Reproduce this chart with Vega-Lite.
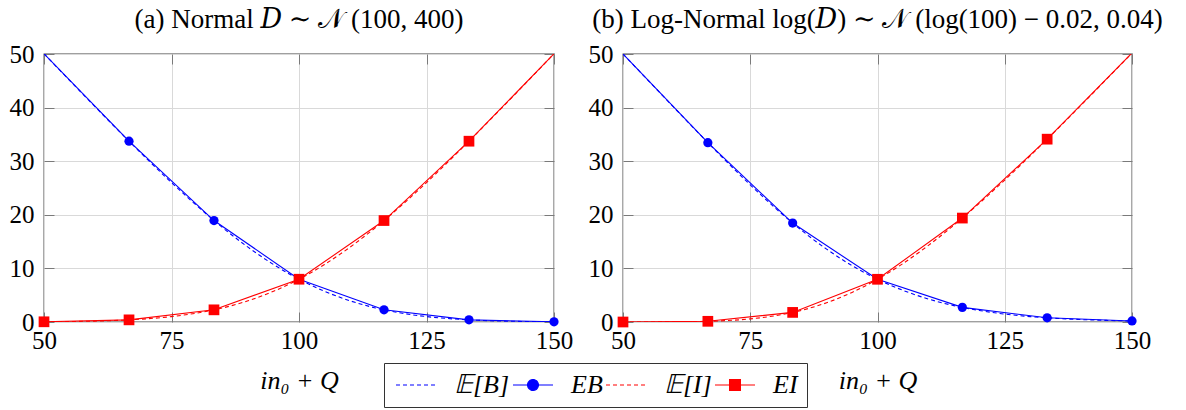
{
  "$schema": "https://vega.github.io/schema/vega-lite/v6.json",
  "background": "white",
  "padding": {"left": 8, "top": 5, "right": 5, "bottom": 5},
  "datasets": {
    "curves": [
      {"p": "a", "s": "E[B]", "q": 50, "v": 50.04}, {"p": "a", "s": "E[B]", "q": 55, "v": 45.09}, {"p": "a", "s": "E[B]", "q": 60, "v": 40.17},
      {"p": "a", "s": "E[B]", "q": 65, "v": 35.32}, {"p": "a", "s": "E[B]", "q": 70, "v": 30.59}, {"p": "a", "s": "E[B]", "q": 75, "v": 26.01},
      {"p": "a", "s": "E[B]", "q": 80, "v": 21.67}, {"p": "a", "s": "E[B]", "q": 85, "v": 17.62}, {"p": "a", "s": "E[B]", "q": 90, "v": 13.96},
      {"p": "a", "s": "E[B]", "q": 95, "v": 10.73}, {"p": "a", "s": "E[B]", "q": 100, "v": 7.98}, {"p": "a", "s": "E[B]", "q": 105, "v": 5.73},
      {"p": "a", "s": "E[B]", "q": 110, "v": 3.96}, {"p": "a", "s": "E[B]", "q": 115, "v": 2.62}, {"p": "a", "s": "E[B]", "q": 120, "v": 1.67},
      {"p": "a", "s": "E[B]", "q": 125, "v": 1.01}, {"p": "a", "s": "E[B]", "q": 130, "v": 0.59}, {"p": "a", "s": "E[B]", "q": 135, "v": 0.32},
      {"p": "a", "s": "E[B]", "q": 140, "v": 0.17}, {"p": "a", "s": "E[B]", "q": 145, "v": 0.09}, {"p": "a", "s": "E[B]", "q": 150, "v": 0.04},
      {"p": "a", "s": "E[I]", "q": 50, "v": 0.04}, {"p": "a", "s": "E[I]", "q": 55, "v": 0.09}, {"p": "a", "s": "E[I]", "q": 60, "v": 0.17},
      {"p": "a", "s": "E[I]", "q": 65, "v": 0.32}, {"p": "a", "s": "E[I]", "q": 70, "v": 0.59}, {"p": "a", "s": "E[I]", "q": 75, "v": 1.01},
      {"p": "a", "s": "E[I]", "q": 80, "v": 1.67}, {"p": "a", "s": "E[I]", "q": 85, "v": 2.62}, {"p": "a", "s": "E[I]", "q": 90, "v": 3.96},
      {"p": "a", "s": "E[I]", "q": 95, "v": 5.73}, {"p": "a", "s": "E[I]", "q": 100, "v": 7.98}, {"p": "a", "s": "E[I]", "q": 105, "v": 10.73},
      {"p": "a", "s": "E[I]", "q": 110, "v": 13.96}, {"p": "a", "s": "E[I]", "q": 115, "v": 17.62}, {"p": "a", "s": "E[I]", "q": 120, "v": 21.67},
      {"p": "a", "s": "E[I]", "q": 125, "v": 26.01}, {"p": "a", "s": "E[I]", "q": 130, "v": 30.59}, {"p": "a", "s": "E[I]", "q": 135, "v": 35.32},
      {"p": "a", "s": "E[I]", "q": 140, "v": 40.17}, {"p": "a", "s": "E[I]", "q": 145, "v": 45.09}, {"p": "a", "s": "E[I]", "q": 150, "v": 50.04},
      {"p": "b", "s": "E[B]", "q": 50, "v": 50.0}, {"p": "b", "s": "E[B]", "q": 55, "v": 45.01}, {"p": "b", "s": "E[B]", "q": 60, "v": 40.03},
      {"p": "b", "s": "E[B]", "q": 65, "v": 35.09}, {"p": "b", "s": "E[B]", "q": 70, "v": 30.25}, {"p": "b", "s": "E[B]", "q": 75, "v": 25.58},
      {"p": "b", "s": "E[B]", "q": 80, "v": 21.19}, {"p": "b", "s": "E[B]", "q": 85, "v": 17.16}, {"p": "b", "s": "E[B]", "q": 90, "v": 13.59},
      {"p": "b", "s": "E[B]", "q": 95, "v": 10.52}, {"p": "b", "s": "E[B]", "q": 100, "v": 7.97}, {"p": "b", "s": "E[B]", "q": 105, "v": 5.91},
      {"p": "b", "s": "E[B]", "q": 110, "v": 4.29}, {"p": "b", "s": "E[B]", "q": 115, "v": 3.06}, {"p": "b", "s": "E[B]", "q": 120, "v": 2.15},
      {"p": "b", "s": "E[B]", "q": 125, "v": 1.48}, {"p": "b", "s": "E[B]", "q": 130, "v": 1.01}, {"p": "b", "s": "E[B]", "q": 135, "v": 0.68},
      {"p": "b", "s": "E[B]", "q": 140, "v": 0.45}, {"p": "b", "s": "E[B]", "q": 145, "v": 0.3}, {"p": "b", "s": "E[B]", "q": 150, "v": 0.19},
      {"p": "b", "s": "E[I]", "q": 50, "v": 0.0}, {"p": "b", "s": "E[I]", "q": 55, "v": 0.01}, {"p": "b", "s": "E[I]", "q": 60, "v": 0.03},
      {"p": "b", "s": "E[I]", "q": 65, "v": 0.09}, {"p": "b", "s": "E[I]", "q": 70, "v": 0.25}, {"p": "b", "s": "E[I]", "q": 75, "v": 0.58},
      {"p": "b", "s": "E[I]", "q": 80, "v": 1.19}, {"p": "b", "s": "E[I]", "q": 85, "v": 2.16}, {"p": "b", "s": "E[I]", "q": 90, "v": 3.59},
      {"p": "b", "s": "E[I]", "q": 95, "v": 5.52}, {"p": "b", "s": "E[I]", "q": 100, "v": 7.97}, {"p": "b", "s": "E[I]", "q": 105, "v": 10.91},
      {"p": "b", "s": "E[I]", "q": 110, "v": 14.29}, {"p": "b", "s": "E[I]", "q": 115, "v": 18.06}, {"p": "b", "s": "E[I]", "q": 120, "v": 22.15},
      {"p": "b", "s": "E[I]", "q": 125, "v": 26.48}, {"p": "b", "s": "E[I]", "q": 130, "v": 31.01}, {"p": "b", "s": "E[I]", "q": 135, "v": 35.68},
      {"p": "b", "s": "E[I]", "q": 140, "v": 40.45}, {"p": "b", "s": "E[I]", "q": 145, "v": 45.3}, {"p": "b", "s": "E[I]", "q": 150, "v": 50.19}
    ],
    "sims": [
      {"p": "a", "s": "EB", "q": 50, "v": 50.04}, {"p": "a", "s": "EB", "q": 66.67, "v": 33.73}, {"p": "a", "s": "EB", "q": 83.33, "v": 18.93},
      {"p": "a", "s": "EB", "q": 100, "v": 7.98}, {"p": "a", "s": "EB", "q": 116.67, "v": 2.27}, {"p": "a", "s": "EB", "q": 133.33, "v": 0.4},
      {"p": "a", "s": "EB", "q": 150, "v": 0.04},
      {"p": "a", "s": "EI", "q": 50, "v": 0.04}, {"p": "a", "s": "EI", "q": 66.67, "v": 0.4}, {"p": "a", "s": "EI", "q": 83.33, "v": 2.27},
      {"p": "a", "s": "EI", "q": 100, "v": 7.98}, {"p": "a", "s": "EI", "q": 116.67, "v": 18.93}, {"p": "a", "s": "EI", "q": 133.33, "v": 33.73},
      {"p": "a", "s": "EI", "q": 150, "v": 50.04},
      {"p": "b", "s": "EB", "q": 50, "v": 50.0}, {"p": "b", "s": "EB", "q": 66.67, "v": 33.46}, {"p": "b", "s": "EB", "q": 83.33, "v": 18.46},
      {"p": "b", "s": "EB", "q": 100, "v": 7.97}, {"p": "b", "s": "EB", "q": 116.67, "v": 2.73}, {"p": "b", "s": "EB", "q": 133.33, "v": 0.78},
      {"p": "b", "s": "EB", "q": 150, "v": 0.19},
      {"p": "b", "s": "EI", "q": 50, "v": 0.0}, {"p": "b", "s": "EI", "q": 66.67, "v": 0.13}, {"p": "b", "s": "EI", "q": 83.33, "v": 1.79},
      {"p": "b", "s": "EI", "q": 100, "v": 7.97}, {"p": "b", "s": "EI", "q": 116.67, "v": 19.39}, {"p": "b", "s": "EI", "q": 133.33, "v": 34.11},
      {"p": "b", "s": "EI", "q": 150, "v": 50.19}
    ]
  },
  "hconcat": [
    {
      "width": 510,
      "height": 268,
      "title": "(a) Normal 𝐷 ∼ 𝒩 (100, 400)",
      "encoding": {
        "x": {"field": "q", "type": "quantitative", "scale": {"domain": [50, 150], "nice": false, "zero": false}, "axis": null},
        "y": {"field": "v", "type": "quantitative", "scale": {"domain": [0, 50], "nice": false}, "axis": null}
      },
      "layer": [
        {
          "data": {"name": "curves"},
          "transform": [{"filter": "datum.p === 'a' && datum.s === 'E[B]'"}],
          "mark": {"type": "line", "color": "#0000ff", "strokeDash": [4, 3], "strokeWidth": 1.1, "interpolate": "monotone", "clip": true},
          "encoding": {
            "x": {"field": "q", "type": "quantitative", "scale": {"domain": [50, 150], "nice": false, "zero": false},
                  "axis": {"orient": "bottom", "values": [50, 75, 100, 125, 150], "title": "in₀ + Q", "grid": true, "domain": false, "tickSize": -10,
                           "labelPadding": 16, "titlePadding": 14}},
            "y": {"field": "v", "type": "quantitative", "scale": {"domain": [0, 50], "nice": false},
                  "axis": {"orient": "left", "values": [0, 10, 20, 30, 40, 50], "title": null, "grid": true, "domain": false, "tickSize": -10,
                           "labelPadding": 20}}
          }
        },
        {
          "data": {"name": "curves"},
          "transform": [{"filter": "datum.p === 'a' && datum.s === 'E[I]'"}],
          "mark": {"type": "line", "color": "#ff0000", "strokeDash": [4, 3], "strokeWidth": 1.1, "interpolate": "monotone", "clip": true}
        },
        {
          "data": {"name": "sims"},
          "transform": [{"filter": "datum.p === 'a' && datum.s === 'EB'"}],
          "mark": {"type": "line", "color": "#0000ff", "strokeWidth": 1.1, "clip": true}
        },
        {
          "data": {"name": "sims"},
          "transform": [{"filter": "datum.p === 'a' && datum.s === 'EI'"}],
          "mark": {"type": "line", "color": "#ff0000", "strokeWidth": 1.1, "clip": true}
        },
        {
          "data": {"name": "sims"},
          "transform": [{"filter": "datum.p === 'a' && datum.s === 'EB' && datum.v < 50"}],
          "mark": {"type": "point", "shape": "circle", "filled": true, "opacity": 1, "size": 85, "color": "#0000ff"}
        },
        {
          "data": {"name": "sims"},
          "transform": [{"filter": "datum.p === 'a' && datum.s === 'EI' && datum.v < 50"}],
          "mark": {"type": "point", "shape": "square", "filled": true, "opacity": 1, "size": 115, "color": "#ff0000"}
        },
        {
          "data": {"name": "sims"},
          "transform": [{"filter": "datum.p === 'a'"}],
          "mark": {"type": "point", "opacity": 0},
          "encoding": {
            "x": {"field": "q", "type": "quantitative", "scale": {"domain": [50, 150], "nice": false, "zero": false},
                  "axis": {"orient": "top", "values": [50, 75, 100, 125, 150], "labels": false, "title": null, "grid": false, "domain": false, "tickSize": -10}},
            "y": {"field": "v", "type": "quantitative", "scale": {"domain": [0, 50], "nice": false},
                  "axis": {"orient": "right", "values": [0, 10, 20, 30, 40, 50], "labels": false, "title": null, "grid": false, "domain": false, "tickSize": -10}}
          }
        },
        {
          "data": {"name": "sims"},
          "transform": [{"filter": "datum.p === 'legend only'"}],
          "mark": {"type": "point", "filled": true},
          "encoding": {
            "color": {"field": "s", "type": "nominal",
                      "scale": {"domain": ["E[B]", "EB", "E[I]", "EI"], "range": ["#0000ff", "#0000ff", "#ff0000", "#ff0000"]},
                      "legend": {"orient": "none", "legendX": 340, "legendY": 309, "direction": "horizontal", "title": null,
                                 "symbolSize": 400, "symbolOffset": 10, "symbolStrokeWidth": 1.2, "symbolOpacity": 1,
                                 "labelFont": "Liberation Serif", "labelFontSize": 26, "labelFontStyle": "italic", "labelColor": "#000",
                                 "labelOffset": 25, "columnPadding": -9, "padding": 9,
                                 "strokeColor": "#333", "fillColor": "white", "labelExpr": "replace(datum.label, 'E[', '𝔼[')"}},
            "stroke": {"field": "s", "type": "nominal",
                       "scale": {"domain": ["E[B]", "EB", "E[I]", "EI"], "range": ["#0000ff", "#0000ff", "#ff0000", "#ff0000"]},
                       "legend": {"orient": "none", "legendX": 340, "legendY": 309, "direction": "horizontal", "title": null,
                                  "symbolSize": 400, "symbolOffset": 10, "symbolStrokeWidth": 1.2, "symbolOpacity": 1,
                                  "labelFont": "Liberation Serif", "labelFontSize": 26, "labelFontStyle": "italic", "labelColor": "#000",
                                  "labelOffset": 25, "columnPadding": -9, "padding": 9,
                                  "strokeColor": "#333", "fillColor": "white", "labelExpr": "replace(datum.label, 'E[', '𝔼[')"}},
            "shape": {"field": "s", "type": "nominal",
                      "scale": {"domain": ["E[B]", "EB", "E[I]", "EI"],
                                "range": ["M-2,0H2", "M-2,0H2M-0.54,0A0.54,0.54,0,1,1,0.54,0A0.54,0.54,0,1,1,-0.54,0Z", "M-2,0H2", "M-2,0H2M-0.54,-0.54H0.54V0.54H-0.54Z"]},
                      "legend": {"orient": "none", "legendX": 340, "legendY": 309, "direction": "horizontal", "title": null,
                                 "symbolSize": 400, "symbolOffset": 10, "symbolStrokeWidth": 1.2, "symbolOpacity": 1,
                                 "labelFont": "Liberation Serif", "labelFontSize": 26, "labelFontStyle": "italic", "labelColor": "#000",
                                 "labelOffset": 25, "columnPadding": -9, "padding": 9,
                                 "strokeColor": "#333", "fillColor": "white", "labelExpr": "replace(datum.label, 'E[', '𝔼[')"}},
            "strokeDash": {"field": "s", "type": "nominal",
                           "scale": {"domain": ["E[B]", "EB", "E[I]", "EI"], "range": [[4, 3], [1, 0], [4, 3], [1, 0]]},
                           "legend": {"orient": "none", "legendX": 340, "legendY": 309, "direction": "horizontal", "title": null,
                                      "symbolSize": 400, "symbolOffset": 10, "symbolStrokeWidth": 1.2, "symbolOpacity": 1,
                                      "labelFont": "Liberation Serif", "labelFontSize": 26, "labelFontStyle": "italic", "labelColor": "#000",
                                      "labelOffset": 25, "columnPadding": -9, "padding": 9,
                                      "strokeColor": "#333", "fillColor": "white", "labelExpr": "replace(datum.label, 'E[', '𝔼[')"}}
          }
        }
      ],
      "resolve": {"axis": {"x": "independent", "y": "independent"}}
    },
    {
      "width": 509,
      "height": 268,
      "title": "(b) Log-Normal log(𝐷) ∼ 𝒩 (log(100) − 0.02, 0.04)",
      "encoding": {
        "x": {"field": "q", "type": "quantitative", "scale": {"domain": [50, 150], "nice": false, "zero": false}, "axis": null},
        "y": {"field": "v", "type": "quantitative", "scale": {"domain": [0, 50], "nice": false}, "axis": null}
      },
      "layer": [
        {
          "data": {"name": "curves"},
          "transform": [{"filter": "datum.p === 'b' && datum.s === 'E[B]'"}],
          "mark": {"type": "line", "color": "#0000ff", "strokeDash": [4, 3], "strokeWidth": 1.1, "interpolate": "monotone", "clip": true},
          "encoding": {
            "x": {"field": "q", "type": "quantitative", "scale": {"domain": [50, 150], "nice": false, "zero": false},
                  "axis": {"orient": "bottom", "values": [50, 75, 100, 125, 150], "title": "in₀ + Q", "grid": true, "domain": false, "tickSize": -10,
                           "labelPadding": 16, "titlePadding": 14}},
            "y": {"field": "v", "type": "quantitative", "scale": {"domain": [0, 50], "nice": false},
                  "axis": {"orient": "left", "values": [0, 10, 20, 30, 40, 50], "title": null, "grid": true, "domain": false, "tickSize": -10,
                           "labelPadding": 20}}
          }
        },
        {
          "data": {"name": "curves"},
          "transform": [{"filter": "datum.p === 'b' && datum.s === 'E[I]'"}],
          "mark": {"type": "line", "color": "#ff0000", "strokeDash": [4, 3], "strokeWidth": 1.1, "interpolate": "monotone", "clip": true}
        },
        {
          "data": {"name": "sims"},
          "transform": [{"filter": "datum.p === 'b' && datum.s === 'EB'"}],
          "mark": {"type": "line", "color": "#0000ff", "strokeWidth": 1.1, "clip": true}
        },
        {
          "data": {"name": "sims"},
          "transform": [{"filter": "datum.p === 'b' && datum.s === 'EI'"}],
          "mark": {"type": "line", "color": "#ff0000", "strokeWidth": 1.1, "clip": true}
        },
        {
          "data": {"name": "sims"},
          "transform": [{"filter": "datum.p === 'b' && datum.s === 'EB' && datum.v < 50"}],
          "mark": {"type": "point", "shape": "circle", "filled": true, "opacity": 1, "size": 85, "color": "#0000ff"}
        },
        {
          "data": {"name": "sims"},
          "transform": [{"filter": "datum.p === 'b' && datum.s === 'EI' && datum.v < 50"}],
          "mark": {"type": "point", "shape": "square", "filled": true, "opacity": 1, "size": 115, "color": "#ff0000"}
        },
        {
          "data": {"name": "sims"},
          "transform": [{"filter": "datum.p === 'b'"}],
          "mark": {"type": "point", "opacity": 0},
          "encoding": {
            "x": {"field": "q", "type": "quantitative", "scale": {"domain": [50, 150], "nice": false, "zero": false},
                  "axis": {"orient": "top", "values": [50, 75, 100, 125, 150], "labels": false, "title": null, "grid": false, "domain": false, "tickSize": -10}},
            "y": {"field": "v", "type": "quantitative", "scale": {"domain": [0, 50], "nice": false},
                  "axis": {"orient": "right", "values": [0, 10, 20, 30, 40, 50], "labels": false, "title": null, "grid": false, "domain": false, "tickSize": -10}}
          }
        }
      ],
      "resolve": {"axis": {"x": "independent", "y": "independent"}}
    }
  ],
  "spacing": 69,
  "bounds": "flush",
  "config": {
    "font": "Liberation Serif",
    "view": {"stroke": "#404040", "strokeWidth": 1.3},
    "axis": {
      "labelFont": "Liberation Serif", "labelFontSize": 25, "labelColor": "#000", "labelFlush": false,
      "titleFont": "Liberation Serif", "titleFontSize": 26, "titleFontStyle": "italic", "titleFontWeight": "normal", "titleColor": "#000",
      "gridColor": "#d9d9d9", "gridWidth": 1, "tickColor": "#7a7a7a", "tickWidth": 1
    },
    "title": {"font": "Liberation Serif, DejaVu Serif", "fontSize": 27, "fontWeight": "normal", "color": "#000", "anchor": "middle", "offset": 8}
  }
}
